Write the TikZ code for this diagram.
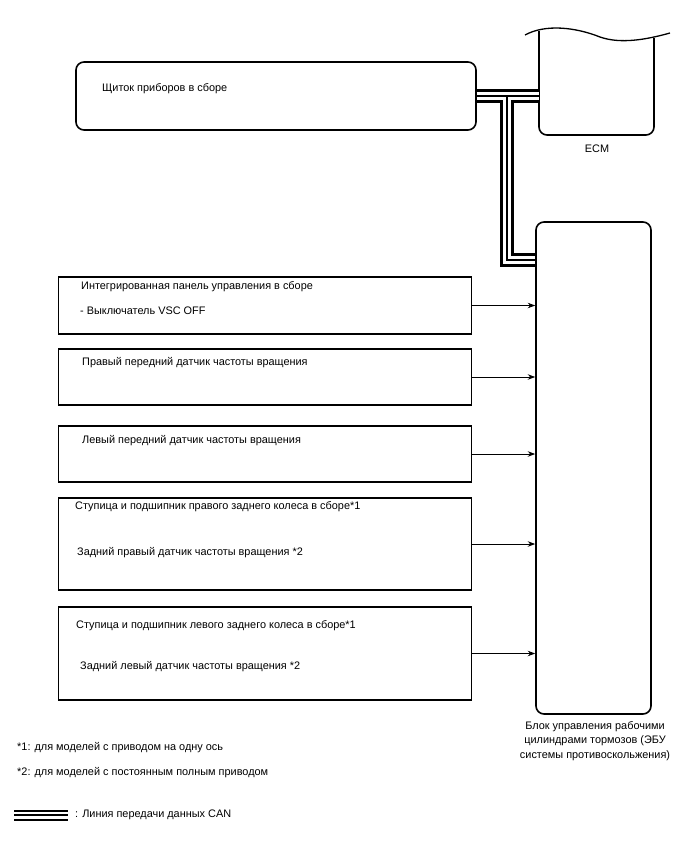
\documentclass[tikz,border=0pt]{standalone}
\usepackage{fontspec}
\setmainfont{Liberation Sans}
\usetikzlibrary{arrows.meta,calc}
\begin{document}
\begin{tikzpicture}[x=1pt,y=-1pt,
  font=\fontsize{10.9}{13}\selectfont,
  lbl/.style={anchor=west,inner sep=0pt},
  rbox/.style={draw,line width=1.6pt,rounded corners=8pt,inner sep=0pt},
  sbox/.style={draw,line width=1.1pt,inner sep=0pt,minimum width=413pt},
  arr/.style={line width=0.9pt,-{Stealth[length=7.5pt,width=5.5pt]}},
  shape node/.style={inner sep=0pt,outer sep=0pt}]
\useasboundingbox (0,0) rectangle (688,852);

% instrument cluster
\node[rbox,minimum width=400pt,minimum height=68pt] (ip) at (276,96) {};
\node[lbl] (tip) at (102,89) {Щиток приборов в сборе};

% ECM
\node[shape node,minimum width=115pt,minimum height=104pt] (ecm) at (596.5,83) {};
\draw[line width=1.6pt,rounded corners=8pt] (ecm.north west) -- (ecm.south west) -- (ecm.south east) -- ($(ecm.north east)+(0,7)$);
\draw[line width=1.3pt] (525,35) .. controls (545,24) and (575,27) .. (600,37) .. controls (620,44) and (645,40) .. (670,33);
\node (tecm) at (597,149) {ECM};

% brake ECU
\node[rbox,minimum width=115pt,minimum height=492pt] (ecu) at (593.5,468) {};
\node[align=center,font=\fontsize{10.9}{14.2}\selectfont] (tecu) at (595,741) {Блок управления рабочими\\цилиндрами тормозов (ЭБУ\\системы противоскольжения)};

% CAN bus
\coordinate (j) at (507,96);
\coordinate (k) at (507,260);
\foreach \w/\c in {14/black,7.5/white,1.2/black}{
  \draw[line width=\w pt,\c] (ip.east) -- (ecm.west |- ip.east);
  \draw[line width=\w pt,\c] (j) -- (k) -- (ecu.west |- k);
}

% left boxes
\node[sbox,minimum height=57pt] (b1) at (265,305.5) {};
\node[lbl] (t1a) at (81,287) {Интегрированная панель управления в сборе};
\node[lbl] (t1b) at (80,311) {- Выключатель VSC OFF};

\node[sbox,minimum height=56pt] (b2) at (265,377) {};
\node[lbl] (t2) at (82,363) {Правый передний датчик частоты вращения};

\node[sbox,minimum height=56pt] (b3) at (265,454) {};
\node[lbl] (t3) at (82,441) {Левый передний датчик частоты вращения};

\node[sbox,minimum height=92pt] (b4) at (265,544) {};
\node[lbl] (t4a) at (75,507) {Ступица и подшипник правого заднего колеса в сборе*1};
\node[lbl] (t4b) at (77,553) {Задний правый датчик частоты вращения *2};

\node[sbox,minimum height=93pt] (b5) at (265,653.5) {};
\node[lbl] (t5a) at (76,626) {Ступица и подшипник левого заднего колеса в сборе*1};
\node[lbl] (t5b) at (80,667) {Задний левый датчик частоты вращения *2};

\foreach \b in {b1,b2,b3,b4,b5}{
  \draw[arr] (\b.east) -- (ecu.west |- \b.east);
}

% footnotes
\node[lbl] (f1) at (17,748) {*1: для моделей с приводом на одну ось};
\node[lbl] (f2) at (17,773) {*2: для моделей с постоянным полным приводом};

% legend
\coordinate (la) at (14,815);
\coordinate (lb) at (68,815);
\draw[line width=11pt] (la) -- (lb);
\draw[line width=7pt,white] (la) -- (lb);
\draw[line width=2pt] (la) -- (lb);
\node[lbl] (tleg) at (75,815) {: Линия передачи данных CAN};
\end{tikzpicture}
\end{document}
